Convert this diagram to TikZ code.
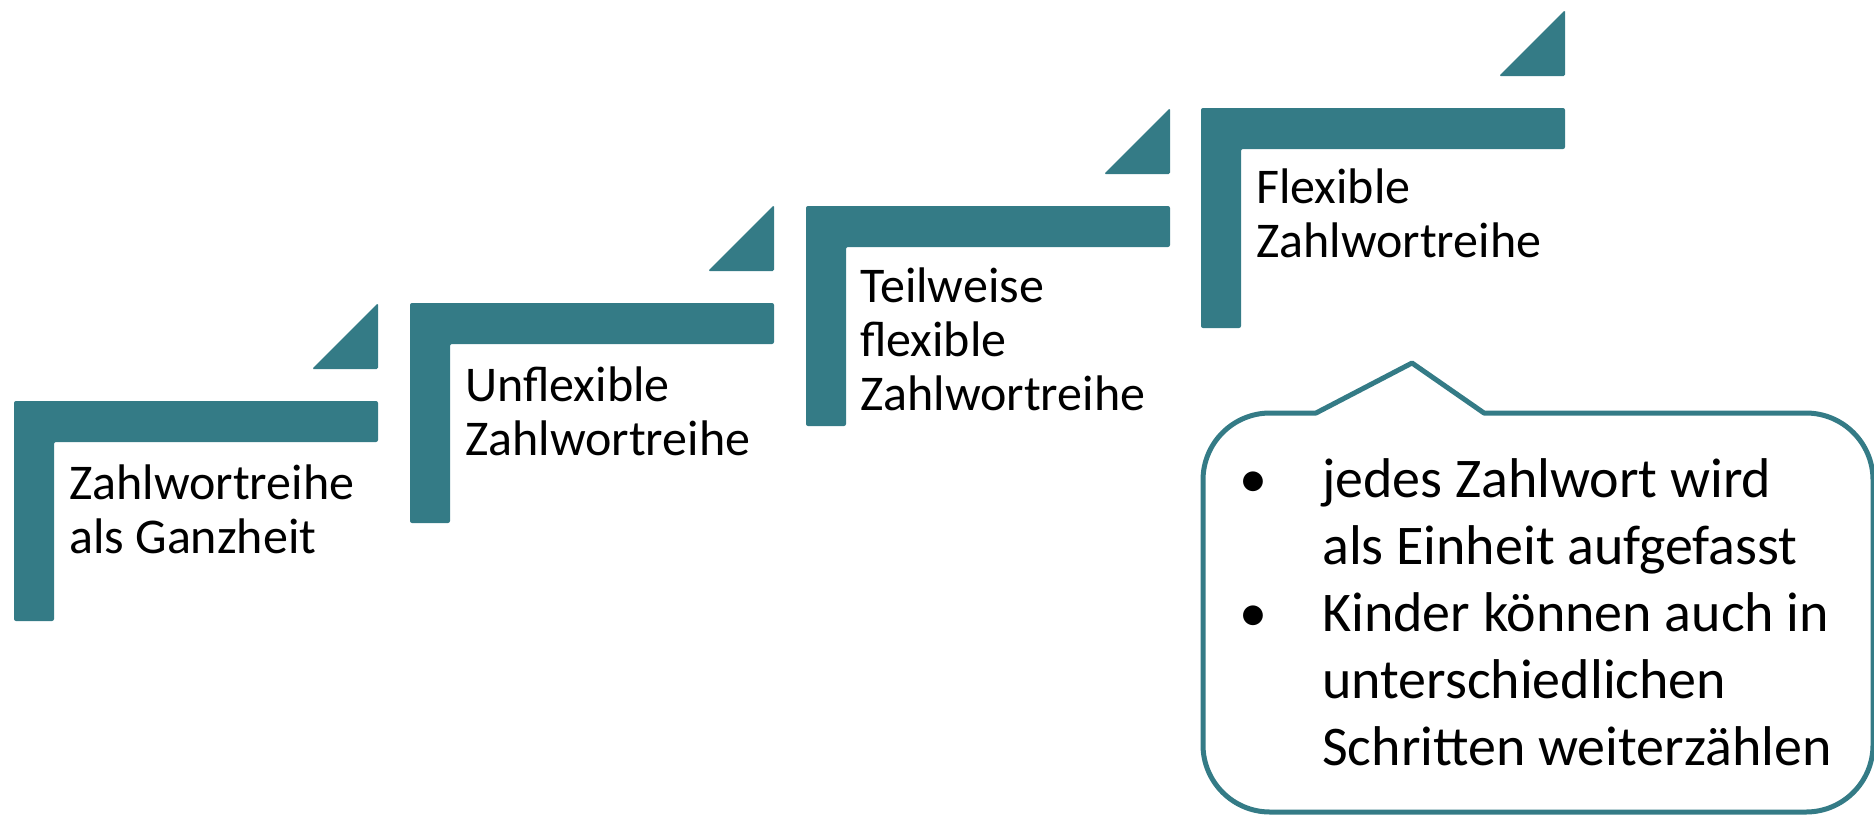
\documentclass[tikz,border=0pt]{standalone}
\usepackage{fontspec}
\setmainfont{Carlito}
\definecolor{teal1}{RGB}{52,123,134}
\begin{document}
\begin{tikzpicture}[x=1pt,y=-1pt,
  stepshape/.style={fill=teal1,rounded corners=2pt},
  tri/.style={fill=teal1,rounded corners=1.5pt},
  steptext/.style={anchor=base west,align=left,inner sep=0pt,
    font=\fontsize{50}{54}\selectfont},
  calltext/.style={anchor=base west,align=left,inner sep=0pt,
    font=\fontsize{56}{67}\selectfont},
  bul/.style={anchor=base,inner sep=0pt,font=\fontsize{56}{67}\selectfont}]
\useasboundingbox (0,0) rectangle (1874,815);
% steps: left, top
\foreach \L/\T [count=\i] in {14/401, 410/303, 806/206, 1201/108}{
  \fill[stepshape] (\L,\T) -- (\L+364,\T) -- (\L+364,\T+41) -- (\L+40,\T+41)
     -- (\L+40,\T+220) -- (\L,\T+220) -- cycle;
  \fill[tri] (\L+298,\T-32) -- (\L+364,\T-32) -- (\L+364,\T-98) -- cycle;
}
% multi-line nodes: base anchor = baseline of the last line
\node[steptext] (s1) at (69,553) {Zahlwortreihe\\als Ganzheit};
\node[steptext] (s2) at (465,455) {Unflexible\\Zahlwortreihe};
\node[steptext] (s3) at (860,410) {Teilweise\\flexible\\Zahlwortreihe};
\node[steptext] (s4) at (1256,257) {Flexible\\Zahlwortreihe};
% callout
\draw[teal1,line width=5pt,line join=round]
  (1203,480) .. controls (1203,443) and (1233,413) .. (1270,413)
  -- (1316,413) -- (1412,363) -- (1484,413) -- (1806,413)
  .. controls (1843,413) and (1873,443) .. (1873,480)
  -- (1873,745) .. controls (1873,782) and (1843,812) .. (1806,812)
  -- (1270,812) .. controls (1233,812) and (1203,782) .. (1203,745) -- cycle;
\node[bul] (b1) at (1253,497) {•};
\node[calltext] (t1) at (1322,564) {jedes Zahlwort wird\\als Einheit aufgefasst};
\node[bul] (b2) at (1253,631) {•};
\node[calltext] (t2) at (1322,765) {Kinder können auch in\\unterschiedlichen\\Schritten weiterzählen};
\end{tikzpicture}
\end{document}
